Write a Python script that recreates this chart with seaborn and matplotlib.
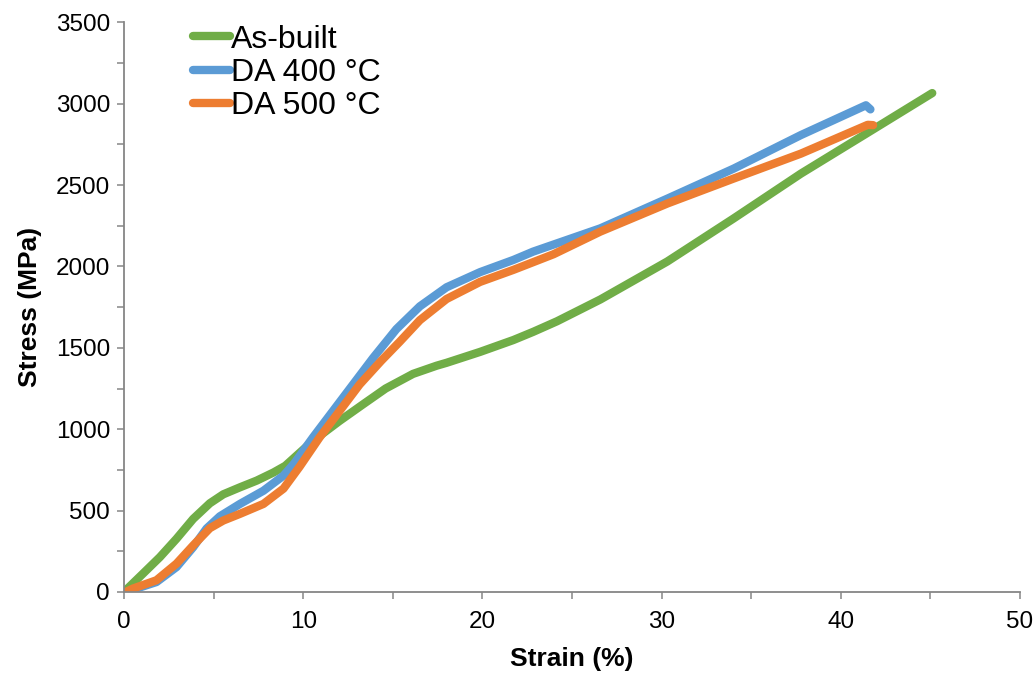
import pandas as pd
import matplotlib
matplotlib.use("Agg")
import matplotlib.pyplot as plt
import seaborn as sns
from matplotlib.ticker import MultipleLocator

# values
as_built_strain = [0, 1.06, 2.0, 2.93, 3.86, 4.79, 5.54, 6.47, 7.40, 8.34, 9.0,
                   10.54, 12.03, 13.34, 14.6, 16.13, 17.44, 18.0, 19.87, 21.73,
                   22.83, 24.16, 26.58, 30.31, 34.02, 37.77, 41.7, 45.1]
as_built_stress = [0, 113, 214, 327, 449, 545, 600, 643, 684, 734, 775,
                   928, 1051, 1153, 1250, 1340, 1390, 1408, 1475, 1548,
                   1598, 1663, 1797, 2030, 2295, 2570, 2835, 3065]

da400_strain = [0.37, 0.69, 1.81, 2.93, 3.86, 4.61, 5.35, 6.47, 7.78, 8.9, 9.5,
                10.54, 11.66, 12.78, 13.9, 15.2, 16.51, 18.0, 19.87, 21.73,
                22.83, 26.58, 30.33, 34.02, 37.77, 41.4, 41.65]
da400_stress = [0, 21, 61, 153, 275, 390, 465, 541, 622, 715, 790,
                949, 1112, 1275, 1438, 1615, 1755, 1872, 1965, 2040,
                2091, 2234, 2417, 2601, 2807, 2990, 2965]

da500_strain = [0.1, 0.5, 1.81, 2.93, 3.86, 4.79, 5.54, 6.47, 7.78, 8.9, 9.8,
                10.91, 12.03, 13.15, 14.35, 15.39, 16.51, 18.0, 19.87, 21.73,
                23.97, 26.58, 30.33, 34.02, 37.77, 41.5, 41.8]
da500_stress = [0, 21, 72, 174, 286, 392, 439, 480, 541, 635, 770,
                949, 1112, 1275, 1420, 1538, 1670, 1800, 1905, 1979,
                2075, 2214, 2387, 2540, 2693, 2870, 2868]

labels = ["As-built", "DA 400 °C", "DA 500 °C"]
colors = ["#70AD47", "#5B9BD5", "#ED7D31"]

frames = []
for lab, xs, ys in zip(labels,
                       [as_built_strain, da400_strain, da500_strain],
                       [as_built_stress, da400_stress, da500_stress]):
    frames.append(pd.DataFrame({"Strain": xs, "Stress": ys, "Sample": lab}))
df = pd.concat(frames, ignore_index=True)

sns.set_style("white")
plt.rcParams["font.family"] = ["Liberation Sans", "DejaVu Sans"]
plt.rcParams["text.color"] = "black"
plt.rcParams["axes.labelcolor"] = "black"
plt.rcParams["xtick.labelcolor"] = "black"
plt.rcParams["ytick.labelcolor"] = "black"

fig = plt.figure(figsize=(10.36, 6.75), dpi=100)
ax = fig.add_axes([0.1197, 0.123, 0.8649, 0.844])

sns.lineplot(data=df, x="Strain", y="Stress", hue="Sample", hue_order=labels,
             palette=colors, sort=False, estimator=None, linewidth=6,
             solid_capstyle="round", solid_joinstyle="round", ax=ax)

ax.set_xlim(0, 50)
ax.set_ylim(0, 3500)
ax.xaxis.set_major_locator(MultipleLocator(10))
ax.xaxis.set_minor_locator(MultipleLocator(5))
ax.yaxis.set_major_locator(MultipleLocator(500))
ax.yaxis.set_minor_locator(MultipleLocator(250))

gray = "#868686"
for side in ["top", "right"]:
    ax.spines[side].set_visible(False)
for side in ["left", "bottom"]:
    ax.spines[side].set_color(gray)
    ax.spines[side].set_linewidth(1.3)
ax.tick_params(which="both", direction="out", length=5, width=1.1, color=gray,
               labelsize=17.5, left=True, bottom=True, pad=5)
ax.tick_params(axis="x", which="both", pad=9)
ax.tick_params(which="minor", labelleft=False, labelbottom=False)

ax.set_xlabel("Strain (%)", fontsize=19, fontweight="bold", labelpad=10)
ax.set_ylabel("Stress (MPa)", fontsize=19, fontweight="bold", labelpad=10)

leg = ax.legend(loc="upper left", bbox_to_anchor=(0.077, 0.996), frameon=False,
                fontsize=23, handlelength=1.15, handletextpad=0.05,
                labelspacing=0.1, borderaxespad=0, borderpad=0)
for line in leg.get_lines():
    line.set_linewidth(6)
    line.set_solid_capstyle("round")

fig.savefig("out.png", dpi=100)
